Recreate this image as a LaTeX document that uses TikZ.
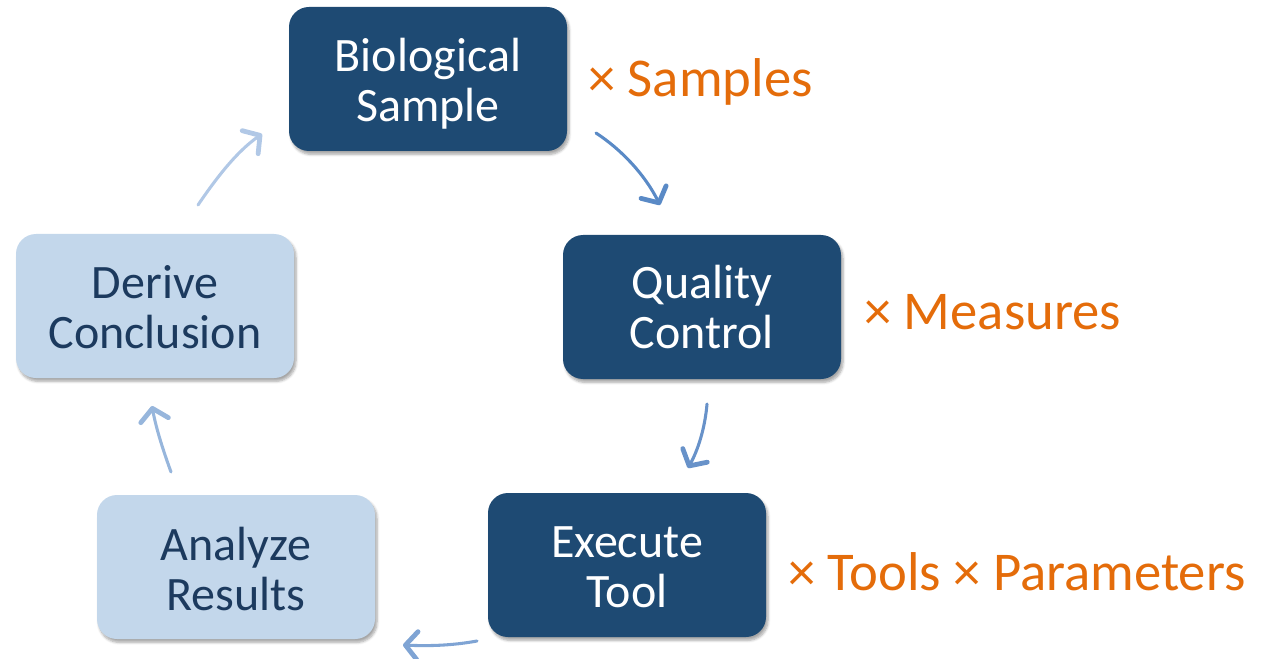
\documentclass[tikz,border=0pt]{standalone}
\usepackage{fontspec}
\setmainfont{Carlito}
\usetikzlibrary{arrows.meta,shadows.blur}
\definecolor{darkbox}{HTML}{1E4A73}
\definecolor{lightbox}{HTML}{C3D7EB}
\definecolor{navytext}{HTML}{1C3A5E}
\definecolor{orangetxt}{HTML}{E46C0A}
\definecolor{arrA}{HTML}{5A8AC6}
\definecolor{arrB}{HTML}{6892C9}
\definecolor{arrC}{HTML}{7FA4D4}
\definecolor{arrD}{HTML}{97B6DC}
\definecolor{arrE}{HTML}{B1C8E6}
\tikzset{
  boxbase/.style={rounded corners=15pt, minimum width=208.5pt, minimum height=108pt,
    inner sep=0pt,
    blur shadow={shadow xshift=1.5pt, shadow yshift=-2.5pt, shadow blur steps=6, shadow opacity=35}},
  darkstep/.style={boxbase, fill=darkbox},
  lightstep/.style={boxbase, fill=lightbox},
  boxlabel/.style={inner sep=0pt, align=center, font=\fontsize{36pt}{37.5pt}\selectfont},
  darklabel/.style={boxlabel, text=white},
  lightlabel/.style={boxlabel, text=navytext},
  factor/.style={anchor=base west, inner sep=0pt, text=orangetxt, font=\fontsize{41pt}{45pt}\selectfont},
  cyclearrow/.style={line width=2.3pt, line cap=round,
    -{Straight Barb[length=9pt,width=21pt,line width=3.6pt,round]}}
}
\begin{document}
\begin{tikzpicture}[x=0.75pt,y=-0.75pt]
\useasboundingbox (0,0) rectangle (1262,659);
\node[darkstep] (bio) at (428,79) {};
\node[darkstep] (qc) at (702,307) {};
\node[darkstep] (exe) at (627,565) {};
\node[lightstep] (ana) at (236,567) {};
\node[lightstep] (der) at (155,306) {};
\node[darklabel] (biot) at (428,83.5) {Biological\\Sample};
\node[darklabel] (qct) at (702,307.5) {Quality\\Control};
\node[darklabel] (exet) at (627,567) {Execute\\Tool};
\node[lightlabel] (anat) at (236,569) {Analyze\\Results};
\node[lightlabel] (dert) at (155,307) {Derive\\Conclusion};

\node[factor] (fs) at (588,97) {× Samples};
\node[factor] (fm) at (864,329) {× Measures};
\node[factor] (ft) at (788,590) {× Tools × Parameters};

\coordinate (a1s) at (596,133); \coordinate (a1e) at (660,205);
\coordinate (a2s) at (707,404); \coordinate (a2e) at (688,468);
\coordinate (a3s) at (477,641); \coordinate (a3e) at (403,645);
\coordinate (a4s) at (171,472); \coordinate (a4e) at (152,406);
\coordinate (a5s) at (198,205); \coordinate (a5e) at (262,134);

\draw[cyclearrow, arrA] (a1s) .. controls (622,150) and (645,175) .. (a1e);
\draw[cyclearrow, arrB] (a2s) .. controls (705,428) and (698,450) .. (a2e);
\draw[cyclearrow, arrC] (a3s) .. controls (450,646) and (425,646) .. (a3e);
\draw[cyclearrow, arrD] (a4s) .. controls (163,450) and (156,428) .. (a4e);
\draw[cyclearrow, arrE] (a5s) .. controls (215,180) and (236,152) .. (a5e);
\end{tikzpicture}
\end{document}
